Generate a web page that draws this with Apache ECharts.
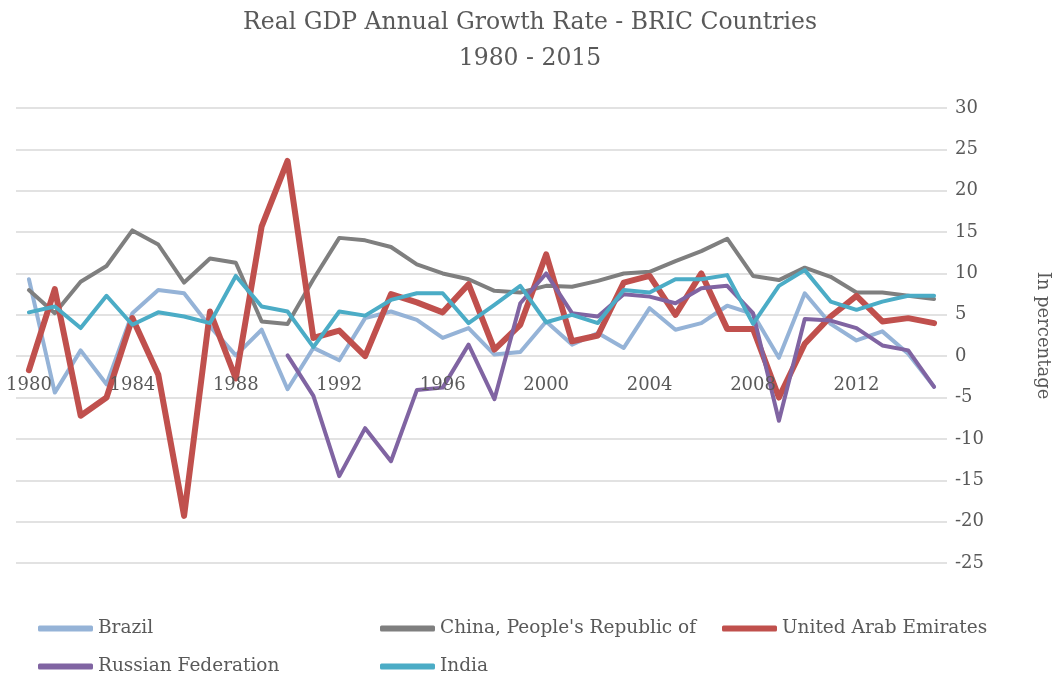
<!DOCTYPE html>
<html>
<head>
<meta charset="utf-8">
<script src="https://cdn.jsdelivr.net/npm/echarts@6/dist/echarts.min.js"></script>
<style>
  html, body { margin: 0; padding: 0; background: #fff; }
  #chart { width: 1060px; height: 677px; }
</style>
</head>
<body>
<div id="chart"></div>
<script>
// 年份
const years = []
for (let y = 1980; y <= 2015; y++) years.push(String(y))

// GDP 增长率 (%)
const brazil = [9.3, -4.4, 0.7, -3.4, 5.2, 8.0, 7.6, 3.6, 0.1, 3.2,
  -4.0, 1.0, -0.5, 4.6, 5.4, 4.4, 2.2, 3.4, 0.2, 0.5,
  4.2, 1.4, 2.8, 1.0, 5.8, 3.2, 4.0, 6.1, 5.1, -0.2,
  7.6, 3.9, 1.9, 3.0, 0.3, -3.7]
const china = [8.0, 5.2, 9.0, 10.9, 15.2, 13.5, 8.9, 11.8, 11.3, 4.2,
  3.9, 9.3, 14.3, 14.0, 13.2, 11.1, 10.0, 9.3, 7.9, 7.7,
  8.5, 8.4, 9.1, 10.0, 10.2, 11.5, 12.7, 14.2, 9.7, 9.2,
  10.7, 9.6, 7.7, 7.7, 7.3, 6.9]
const uae = [-1.7, 8.1, -7.2, -5.0, 4.6, -2.2, -19.3, 5.4, -2.7, 15.7,
  23.6, 2.2, 3.1, 0.0, 7.5, 6.5, 5.3, 8.7, 0.8, 3.8,
  12.3, 1.8, 2.5, 8.9, 9.7, 5.0, 10.0, 3.3, 3.3, -5.0,
  1.5, 4.8, 7.3, 4.2, 4.6, 4.0]
const russia = [null, null, null, null, null, null, null, null, null, null,
  0.1, -4.8, -14.5, -8.7, -12.7, -4.1, -3.8, 1.4, -5.2, 6.4,
  10.0, 5.2, 4.8, 7.5, 7.2, 6.4, 8.2, 8.5, 5.2, -7.8,
  4.5, 4.3, 3.4, 1.3, 0.7, -3.7]
const india = [5.3, 6.0, 3.4, 7.3, 3.8, 5.3, 4.8, 4.0, 9.7, 6.0,
  5.4, 1.1, 5.4, 4.9, 6.8, 7.6, 7.6, 4.0, 6.2, 8.5,
  4.1, 5.0, 4.0, 8.0, 7.7, 9.3, 9.3, 9.8, 3.9, 8.5,
  10.4, 6.6, 5.6, 6.6, 7.3, 7.3]

const seriesNames = ['Brazil', "China, People's Republic of", 'United Arab Emirates', 'Russian Federation', 'India']
const seriesData = [brazil, china, uae, russia, india]
const seriesColors = ['#95b3d7', '#7f7f7f', '#c0504d', '#8064a2', '#4bacc6']
const seriesWidths = [4, 4, 6, 4, 4]

const serif = 'DejaVu Serif'
const textColor = '#595959'

const chart = echarts.init(document.getElementById('chart'))

// 图例位置
const legendPos = [[38, 619], [380, 619], [722, 619], [38, 657], [380, 657]]

const option = {
  backgroundColor: '#fff',
  animation: false,
  title: {
    text: 'Real GDP Annual Growth Rate - BRIC Countries\n1980 - 2015',
    left: 'center',
    top: 0,
    textStyle: {
      fontFamily: serif,
      fontWeight: 'normal',
      fontSize: 23.5,
      lineHeight: 36,
      color: textColor
    }
  },
  legend: seriesNames.map((name, i) => ({
    data: [name],
    left: legendPos[i][0],
    top: legendPos[i][1],
    padding: 0,
    icon: 'roundRect',
    itemWidth: 55,
    itemHeight: 6,
    textStyle: { fontFamily: serif, fontSize: 18.5, color: textColor }
  })),
  grid: {
    left: 16,
    right: 107,
    top: 108,
    bottom: 114
  },
  xAxis: {
    type: 'category',
    data: years,
    boundaryGap: true,
    zlevel: 1,
    z: 10,
    axisLine: { show: false, onZero: false },
    axisTick: { show: false },
    axisLabel: {
      interval: 3,
      fontFamily: serif,
      fontSize: 18,
      color: textColor,
      margin: 20
    }
  },
  yAxis: {
    type: 'value',
    position: 'right',
    min: -25,
    max: 30,
    interval: 5,
    name: 'In percentage',
    nameLocation: 'middle',
    nameRotate: -90,
    nameGap: 87,
    nameTextStyle: { fontFamily: serif, fontSize: 18, color: textColor },
    axisLine: { show: false },
    axisTick: { show: false },
    axisLabel: { fontFamily: serif, fontSize: 18, color: textColor, margin: 8 },
    splitLine: { lineStyle: { color: '#d9d9d9', width: 1.5 } }
  },
  series: seriesNames.map((name, i) => ({
    name: name,
    type: 'line',
    data: seriesData[i],
    showSymbol: false,
    symbol: 'none',
    connectNulls: false,
    color: seriesColors[i],
    lineStyle: { width: seriesWidths[i], color: seriesColors[i], cap: 'round', join: 'round' }
  }))
}

chart.setOption(option)

// 把x轴移到 0 的位置
const zeroY = chart.convertToPixel({ yAxisIndex: 0 }, 0)
const bottomY = chart.convertToPixel({ yAxisIndex: 0 }, option.yAxis.min)
chart.setOption({ xAxis: { offset: -(bottomY - zeroY) } })
</script>
</body>
</html>
